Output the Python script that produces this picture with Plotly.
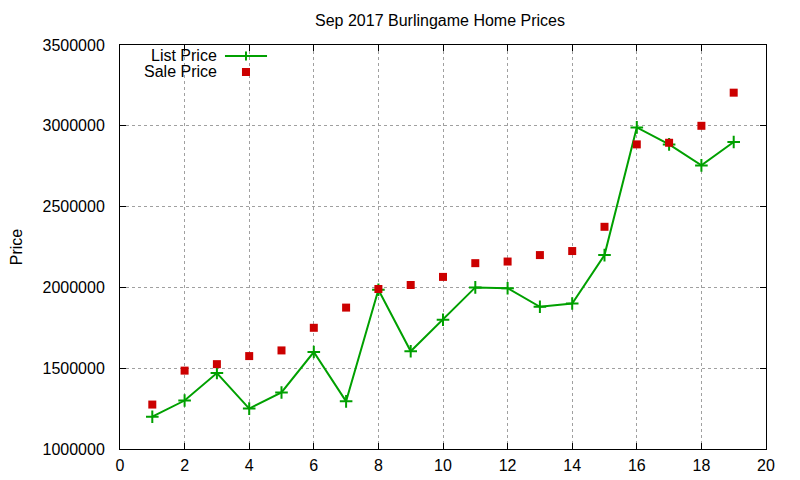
import plotly.graph_objects as go

# -------------------------------
# Data
# -------------------------------
listing = list(range(1, 20))
list_price = [1200000, 1300000, 1470000, 1250000, 1350000, 1600000, 1295000,
              1985000, 1605000, 1800000, 2000000, 1995000, 1880000, 1900000,
              2200000, 2990000, 2885000, 2755000, 2900000]
sale_price = [1275000, 1485000, 1525000, 1575000, 1610000, 1750000, 1875000,
              1990000, 2015000, 2065000, 2150000, 2160000, 2200000, 2225000,
              2375000, 2885000, 2895000, 3000000, 3205000]

x_ticks = list(range(0, 21, 2))
y_ticks = list(range(1000000, 3500001, 500000))

GREEN = "#00a000"
RED = "#cc0000"
FONT = "Liberation Sans, Arial, sans-serif"

fig = go.Figure()

fig.add_trace(go.Scatter(
    x=listing, y=list_price, mode="lines+markers", name="List Price",
    line=dict(color=GREEN, width=2),
    marker=dict(symbol="cross-thin", size=9, line=dict(color=GREEN, width=2)),
    showlegend=False, hoverinfo="skip",
))
fig.add_trace(go.Scatter(
    x=listing, y=sale_price, mode="markers", name="Sale Price",
    marker=dict(symbol="square", size=8, color=RED),
    showlegend=False, hoverinfo="skip",
))

# -------------------------------
# gnuplot-style key, top left
# -------------------------------
key = [("List Price", 0.9728), ("Sale Price", 0.9332)]
for label, ky in key:
    fig.add_annotation(x=0.154, y=ky, xref="paper", yref="paper", text=label,
                       showarrow=False, xanchor="right", yanchor="middle",
                       font=dict(family=FONT, size=16, color="black"))

shapes = [
    dict(type="line", xref="paper", yref="paper", x0=0.1625, x1=0.2276,
         y0=0.9728, y1=0.9728, line=dict(color=GREEN, width=2)),
    dict(type="line", xref="paper", yref="paper", x0=0.195, x1=0.195,
         y0=0.9616, y1=0.9840, line=dict(color=GREEN, width=2)),
    dict(type="rect", xref="paper", yref="paper", x0=0.1888, x1=0.2012,
         y0=0.9233, y1=0.9431, fillcolor=RED, line=dict(width=0)),
]

axis_common = dict(
    showline=True, linecolor="black", linewidth=1, mirror="allticks",
    ticks="inside", ticklen=6, tickcolor="black", automargin=False,
    showgrid=True, gridcolor="#a0a0a0", griddash="dot", gridwidth=1,
    zeroline=False, tickfont=dict(family=FONT, size=16, color="black"),
)

fig.update_layout(
    width=800, height=480,
    margin=dict(l=112, r=42, t=37, b=39),
    paper_bgcolor="white", plot_bgcolor="white",
    title=dict(text="Sep 2017 Burlingame Home Prices", x=0.54, y=0.975,
               xanchor="center", yanchor="middle",
               font=dict(family=FONT, size=16, color="black")),
    xaxis=dict(range=[0, 20], tickvals=x_ticks, ticklabelstandoff=2,
               **axis_common),
    yaxis=dict(range=[1000000, 3500000], tickvals=y_ticks, tickformat="d",
               ticklabelstandoff=11,
               title=dict(text="Price", standoff=24,
                          font=dict(family=FONT, size=16, color="black")),
               **axis_common),
    shapes=shapes,
    showlegend=False,
)

fig.write_html("out.html")
